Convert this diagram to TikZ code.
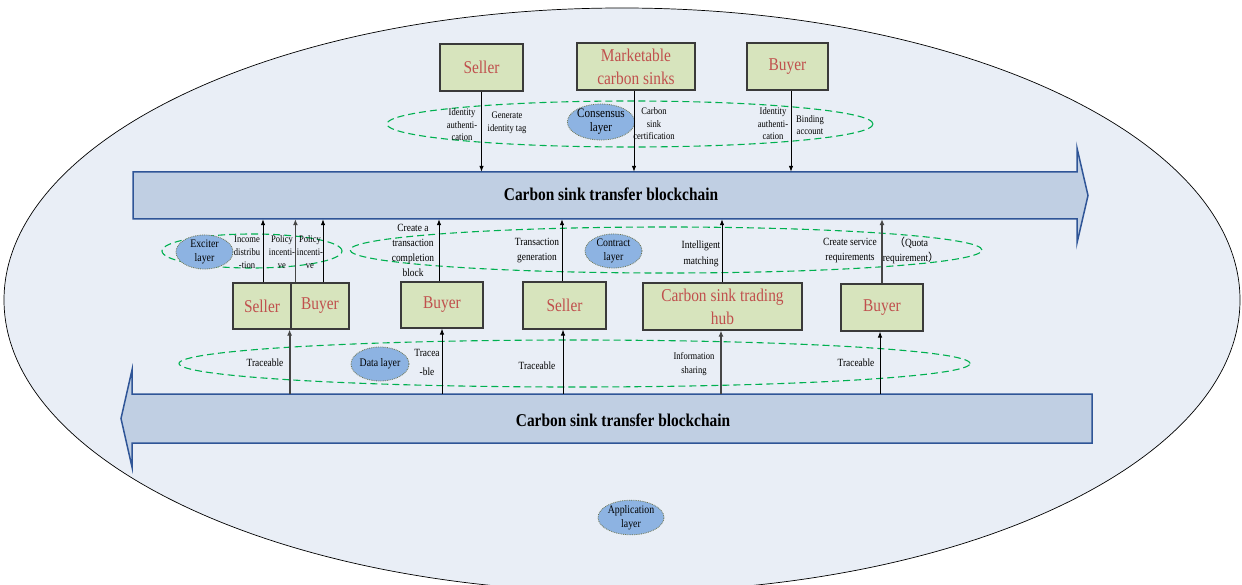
\documentclass[tikz,border=0pt]{standalone}
\usepackage{fontspec}
\setmainfont{Liberation Serif}[FakeStretch=0.855]
\newfontfamily\cjk{Noto Sans CJK SC}
\usetikzlibrary{shapes.geometric,arrows.meta}
\definecolor{bgcol}{HTML}{E9EEF6}
\definecolor{boxfill}{HTML}{D7E4BD}
\definecolor{boxtext}{HTML}{C0504D}
\definecolor{boxline}{HTML}{3A3A3A}
\definecolor{chainfill}{HTML}{C0CFE3}
\definecolor{chainline}{HTML}{2F5597}
\definecolor{ringgreen}{HTML}{00B050}
\definecolor{layerfill}{HTML}{8DB3E2}
\definecolor{layerline}{HTML}{6B7350}
\definecolor{arrgray}{HTML}{464646}
\begin{document}
\begin{tikzpicture}[x=1pt,y=-1pt,
  box/.style={draw=boxline, line width=1.2pt, fill=boxfill, text=boxtext,
    font=\fontsize{18}{23}\selectfont, align=center, inner sep=0pt},
  chain/.style={draw=chainline, line width=1.5pt, fill=chainfill},
  chaintitle/.style={font=\fontsize{18}{22}\selectfont\bfseries, inner sep=0pt},
  ring/.style={ellipse, draw=ringgreen, dash pattern=on 7pt off 4pt, line width=1.1pt, inner sep=0pt},
  layer/.style={ellipse, draw=layerline, densely dotted, line width=0.8pt, fill=layerfill,
    inner sep=0pt, align=center, font=\fontsize{11.5}{14}\selectfont},
  lbl/.style={font=\fontsize{11}{15}\selectfont, align=center, inner sep=0pt},
  slbl/.style={font=\fontsize{10}{12.5}\selectfont, align=center, inner sep=0pt},
  elbl/.style={font=\fontsize{10}{13}\selectfont, align=center, inner sep=0pt},
  arr/.style={-{Latex[length=6pt,width=4.5pt]}, line width=0.8pt, draw=black},
  garr/.style={-{Latex[length=6pt,width=5pt]}, line width=1.8pt, draw=arrgray}]
\useasboundingbox (0,0) rectangle (1242,585);
% background ellipse
\filldraw[fill=bgcol, draw=black, line width=0.7pt] (622,300) ellipse [x radius=618, y radius=292];

% blockchain arrows
\draw[chain] (133,172) -- (1077,172) -- (1077,148) -- (1088,195.5) -- (1077,243) -- (1077,219) -- (133,219) -- cycle;
\node[minimum width=944pt, minimum height=47pt, inner sep=0pt] (topchain) at (605,195.5) {};
\node[chaintitle] (toptitle) at (611,194) {Carbon sink transfer blockchain};
\draw[chain] (1092,394) -- (132,394) -- (132,370) -- (121,418.5) -- (132,467) -- (132,443) -- (1092,443) -- cycle;
\node[minimum width=960pt, minimum height=49pt, inner sep=0pt] (botchain) at (612,418.5) {};
\node[chaintitle] (bottitle) at (623,420) {Carbon sink transfer blockchain};

% dashed rings
\node[ring, minimum width=486pt, minimum height=46pt] (consRing) at (630,124) {};
\node[ring, minimum width=180pt, minimum height=34pt] (excRing) at (252,251) {};
\node[ring, minimum width=632pt, minimum height=46pt] (contRing) at (666,250) {};
\node[ring, minimum width=791pt, minimum height=47pt] (dataRing) at (574.5,363.5) {};

% layer ellipses
\node[layer, minimum width=59pt, minimum height=31pt, font=\fontsize{13}{14}\selectfont] (consL) at (601,122) {Consensus\\layer};
\node[layer, minimum width=57pt, minimum height=31pt] (excL) at (204.5,252) {Exciter\\layer};
\node[layer, minimum width=57pt, minimum height=32pt] (contL) at (613.5,251) {Contract\\layer};
\node[layer, minimum width=58pt, minimum height=34pt] (dataL) at (380,364) {Data layer};
\node[layer, minimum width=66pt, minimum height=31pt] (appL) at (631,517.5) {Application\\layer};

% top boxes
\node[box, minimum width=83pt, minimum height=47pt] (sT) at (481.5,67.5) {Seller};
\node[box, minimum width=118pt, minimum height=47pt] (mT) at (636,66.5) {Marketable\\carbon sinks};
\node[box, minimum width=81pt, minimum height=47pt] (bT) at (787.5,66.5) {Buyer};

% middle boxes
\node[box, minimum width=58pt, minimum height=46pt] (sM) at (262,306) {Seller};
\node[box, minimum width=58pt, minimum height=46pt] (bM1) at (320,306) {Buyer};
\node[box, minimum width=82pt, minimum height=46pt] (bM2) at (442,305) {Buyer};
\node[box, minimum width=83pt, minimum height=47pt] (sM2) at (564.5,305.5) {Seller};
\node[box, minimum width=159pt, minimum height=47pt] (hub) at (722.5,306.5) {Carbon sink trading\\hub};
\node[box, minimum width=82pt, minimum height=47pt] (bM3) at (882,307.5) {Buyer};

% top arrows (boxes to chain)
\draw[arr] (sT.south) -- (sT.south |- topchain.north);
\draw[arr] ([xshift=-2pt]mT.south) -- ([xshift=-2pt]mT.south |- topchain.north);
\draw[arr] ([xshift=3.5pt]bT.south) -- ([xshift=3.5pt]bT.south |- topchain.north);

% middle arrows (boxes up to top chain)
\draw[arr] ([xshift=1pt]sM.north) -- ([xshift=1pt]sM.north |- topchain.south);
\draw[garr] ([xshift=5pt]bM1.north west) -- ([xshift=5pt]bM1.north west |- topchain.south);
\draw[arr] ([xshift=3pt]bM1.north) -- ([xshift=3pt]bM1.north |- topchain.south);
\draw[arr] ([xshift=-3pt]bM2.north) -- ([xshift=-3pt]bM2.north |- topchain.south);
\draw[arr] ([xshift=-2.5pt]sM2.north) -- ([xshift=-2.5pt]sM2.north |- topchain.south);
\draw[arr] ([xshift=-0.5pt]hub.north) -- ([xshift=-0.5pt]hub.north |- topchain.south);
\draw[garr] (bM3.north) -- (bM3.north |- topchain.south);

% bottom arrows (chain up to boxes)
\draw[garr] ([xshift=-2pt]sM.south east |- botchain.north) -- ([xshift=-2pt]sM.south east);
\draw[arr] (bM2.south |- botchain.north) -- (bM2.south);
\draw[arr] ([xshift=-1.5pt]sM2.south |- botchain.north) -- ([xshift=-1.5pt]sM2.south);
\draw[garr] ([xshift=-1.5pt]hub.south |- botchain.north) -- ([xshift=-1.5pt]hub.south);
\draw[arr] ([xshift=-2pt]bM3.south |- botchain.north) -- ([xshift=-2pt]bM3.south);

% consensus labels
\node[slbl] (c1) at (462,125) {Identity\\authenti-\\cation};
\node[slbl] (c2) at (507,123) {Generate\\identity tag};
\node[slbl] (c3) at (654,124) {Carbon\\sink\\certification};
\node[slbl] (c4) at (773,124) {Identity\\authenti-\\cation};
\node[slbl] (c5) at (810,125) {Binding\\account};

% exciter / contract labels
\node[elbl] (e1) at (247,252) {Income\\distribu\\-tion};
\node[elbl] (e2) at (282,252) {Policy\\incenti-\\ve};
\node[elbl] (e3) at (310,252) {Policy\\incenti-\\ve};
\node[lbl] (k1) at (413,250) {Create a\\transaction\\completion\\block};
\node[lbl] (k2) at (537,250.5) {Transaction\\generation};
\node[lbl, font=\fontsize{11}{16}\selectfont] (k3) at (701,254) {Intelligent\\matching};
\node[lbl] (k4) at (850,250.5) {Create service\\requirements};
\node[lbl] (k5) at (911,250.5) {{\cjk （}Quota\\requirement{\cjk ）}};

% data labels
\node[lbl] (d1) at (265,363) {Traceable};
\node[lbl, font=\fontsize{11}{19}\selectfont] (d2) at (427,362.5) {Tracea\\-ble};
\node[lbl] (d3) at (537,366) {Traceable};
\node[lbl, font=\fontsize{10}{14}\selectfont] (d4) at (694,364) {Information\\sharing};
\node[lbl] (d5) at (856,363) {Traceable};
\end{tikzpicture}
\end{document}
